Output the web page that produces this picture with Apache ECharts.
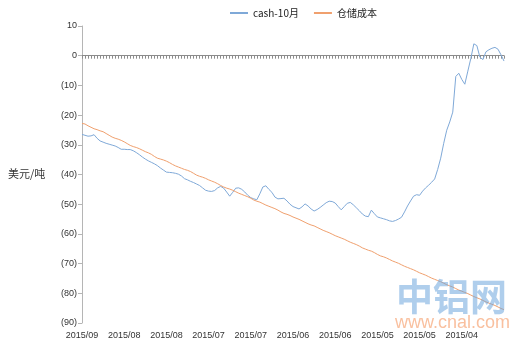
<!DOCTYPE html>
<html><head><meta charset="utf-8">
<script src="https://cdn.jsdelivr.net/npm/echarts@6/dist/echarts.min.js"></script>
<style>html,body{margin:0;padding:0;background:#fff}#c{width:530px;height:356px}</style>
</head><body><div id="c"></div>
<script>
const categories = [
'2015/09/01',
'2015/08/31','2015/08/30','2015/08/29','2015/08/28','2015/08/27','2015/08/26','2015/08/25','2015/08/24','2015/08/23','2015/08/22',
'2015/08/21','2015/08/20','2015/08/19','2015/08/18','2015/08/17','2015/08/16','2015/08/15','2015/08/14','2015/08/13','2015/08/12',
'2015/08/11','2015/08/10','2015/08/09','2015/08/08','2015/08/07','2015/08/06','2015/08/05','2015/08/04','2015/08/03','2015/08/02','2015/08/01',
'2015/07/31','2015/07/30','2015/07/29','2015/07/28','2015/07/27','2015/07/26','2015/07/25','2015/07/24','2015/07/23','2015/07/22',
'2015/07/21','2015/07/20','2015/07/19','2015/07/18','2015/07/17','2015/07/16','2015/07/15','2015/07/14','2015/07/13','2015/07/12',
'2015/07/11','2015/07/10','2015/07/09','2015/07/08','2015/07/07','2015/07/06','2015/07/05','2015/07/04','2015/07/03','2015/07/02','2015/07/01',
'2015/06/30','2015/06/29','2015/06/28','2015/06/27','2015/06/26','2015/06/25','2015/06/24','2015/06/23','2015/06/22','2015/06/21',
'2015/06/20','2015/06/19','2015/06/18','2015/06/17','2015/06/16','2015/06/15','2015/06/14','2015/06/13','2015/06/12','2015/06/11',
'2015/06/10','2015/06/09','2015/06/08','2015/06/07','2015/06/06','2015/06/05','2015/06/04','2015/06/03','2015/06/02','2015/06/01',
'2015/05/31','2015/05/30','2015/05/29','2015/05/28','2015/05/27','2015/05/26','2015/05/25','2015/05/24','2015/05/23','2015/05/22',
'2015/05/21','2015/05/20','2015/05/19','2015/05/18','2015/05/17','2015/05/16','2015/05/15','2015/05/14','2015/05/13','2015/05/12',
'2015/05/11','2015/05/10','2015/05/09','2015/05/08','2015/05/07','2015/05/06','2015/05/05','2015/05/04','2015/05/03','2015/05/02','2015/05/01',
'2015/04/30','2015/04/29','2015/04/28','2015/04/27','2015/04/26','2015/04/25','2015/04/24','2015/04/23','2015/04/22','2015/04/21',
'2015/04/20','2015/04/19','2015/04/18','2015/04/17','2015/04/16','2015/04/15','2015/04/14'
];

const cashOct = [
-26.5,-26.8,-27.1,-27.0,-26.6,-27.8,-28.7,-29.1,-29.5,-29.8,
-30.1,-30.4,-30.9,-31.5,-31.5,-31.6,-31.6,-32.0,-32.6,-33.3,
-34.1,-34.8,-35.4,-35.9,-36.4,-37.0,-37.8,-38.5,-39.2,-39.3,
-39.4,-39.6,-39.9,-40.5,-41.4,-41.8,-42.3,-42.7,-43.2,-43.7,
-44.5,-45.3,-45.6,-45.7,-45.4,-44.5,-44.0,-44.6,-45.9,-47.3,
-46.0,-44.6,-44.5,-45.0,-45.9,-47.0,-47.8,-48.2,-48.5,-46.5,
-44.2,-43.8,-45.0,-46.0,-47.6,-48.2,-48.1,-48.0,-48.9,-50.0,
-50.8,-51.2,-51.6,-50.9,-49.9,-50.6,-51.6,-52.3,-51.8,-51.1,
-50.3,-49.5,-49.0,-49.1,-49.6,-50.8,-51.9,-50.8,-49.7,-49.4,
-50.2,-51.2,-52.2,-53.3,-54.0,-54.2,-52.0,-53.2,-54.3,-54.6,
-54.9,-55.2,-55.6,-55.8,-55.5,-55.0,-54.4,-52.6,-50.6,-48.9,
-47.3,-46.8,-47.0,-45.6,-44.5,-43.6,-42.6,-41.5,-38.3,-34.5,
-29.5,-25.1,-22.3,-19.0,-7.0,-5.9,-8.0,-9.6,-5.2,-0.9,
4.0,3.4,-0.5,-1.3,1.3,2.0,2.5,2.8,2.2,0.3,
-1.8
];

const storageCost = [
-22.8,-23.0,-23.6,-24.1,-24.6,-24.9,-25.3,-25.6,-26.2,-26.8,
-27.4,-27.8,-28.1,-28.5,-29.0,-29.6,-30.2,-30.6,-30.9,-31.3,
-31.8,-32.3,-32.7,-33.2,-33.9,-34.5,-34.8,-35.1,-35.5,-36.0,
-36.6,-37.1,-37.5,-37.9,-38.3,-38.6,-39.0,-39.6,-40.2,-40.6,
-40.9,-41.3,-41.8,-42.2,-42.6,-43.1,-43.7,-44.2,-44.6,-44.9,
-45.3,-45.8,-46.3,-46.7,-47.1,-47.5,-48.0,-48.6,-49.0,-49.3,
-49.8,-50.3,-50.7,-51.1,-51.5,-52.0,-52.6,-53.1,-53.4,-53.8,
-54.3,-54.7,-55.1,-55.6,-56.1,-56.6,-57.0,-57.3,-57.8,-58.3,
-58.8,-59.2,-59.6,-60.1,-60.6,-61.0,-61.4,-61.8,-62.3,-62.8,
-63.2,-63.6,-64.1,-64.7,-65.1,-65.5,-65.8,-66.3,-66.9,-67.4,
-67.7,-68.1,-68.6,-69.1,-69.5,-69.9,-70.4,-70.9,-71.3,-71.7,
-72.1,-72.6,-73.1,-73.5,-73.9,-74.4,-74.9,-75.3,-75.7,-76.1,
-76.6,-77.1,-77.5,-77.9,-78.4,-78.9,-79.3,-79.7,-80.1,-80.6,
-81.1,-81.5,-81.9,-82.4,-82.9,-83.3,-83.7,-84.1,-84.6,-85.1,
-85.5
];

const seriesNames = ['cash-10月', '仓储成本'];
const yTitle = '美元/吨';
const yMin = -90, yMax = 10, yStep = 10;
const labelEvery = 14;
const watermark = ['中铝网', 'www.cnal.com'];

const chart = echarts.init(document.getElementById('c'), null, {renderer: 'canvas'});
chart.setOption({
  animation: false,
  backgroundColor: '#fff',
  textStyle: {fontFamily: 'Liberation Sans'},
  legend: {
    left: 224, top: 3,
    itemWidth: 18, itemHeight: 2, itemGap: 14,
    textStyle: {fontSize: 10, color: '#222', fontFamily: 'Noto Sans CJK SC'},
    data: seriesNames
  },
  grid: {left: 82, right: 26, top: 26, bottom: 33, containLabel: false},
  xAxis: [{
    type: 'category', data: categories, boundaryGap: false, position: 'bottom',
    axisLine: {show: false, onZero: false},
    axisTick: {show: false},
    axisLabel: {
      interval: idx => idx % labelEvery === 0 && idx < categories.length - 1,
      margin: 8, fontSize: 9, color: '#333',
      formatter: v => v.slice(0, 7)}
  }, {
    type: 'category', data: categories, boundaryGap: false, position: 'bottom',
    axisLine: {show: true, onZero: true, lineStyle: {color: '#8c8c8c', width: 1}},
    axisTick: {show: true, interval: 0, length: 3, lineStyle: {color: '#8c8c8c'}},
    axisLabel: {show: false},
    splitLine: {show: false}
  }],
  yAxis: {
    type: 'value', min: yMin, max: yMax, interval: yStep,
    axisLine: {show: true, lineStyle: {color: '#b5b5b5'}},
    axisTick: {show: true, length: 4, lineStyle: {color: '#b5b5b5'}},
    splitLine: {show: false},
    axisLabel: {fontSize: 9, color: '#333', margin: 5,
      formatter: v => v < 0 ? '(' + Math.abs(v) + ')' : String(v)}
  },
  series: [{
    name: seriesNames[0], type: 'line', data: cashOct, xAxisIndex: 0,
    symbol: 'none',
    lineStyle: {color: '#7fa9d8', width: 1}, itemStyle: {color: '#7fa9d8'}
  }, {
    name: seriesNames[1], type: 'line', data: storageCost, xAxisIndex: 0,
    symbol: 'none',
    lineStyle: {color: '#f0a06e', width: 1}, itemStyle: {color: '#f0a06e'}
  }],
  graphic: [{
    type: 'text', left: 8, top: 168, silent: true,
    style: {text: yTitle, font: '11px "Noto Sans CJK SC"', fill: '#333'}
  }, {
    type: 'text', left: 396, top: 278, silent: true, z: 100,
    style: {text: watermark[0], font: 'bold 37px "Noto Sans CJK SC"', fill: 'rgba(110,165,220,0.55)'}
  }, {
    type: 'text', left: 395, top: 314, silent: true, z: 100,
    style: {text: watermark[1], font: '18px "Liberation Sans"', fill: 'rgba(245,150,95,0.6)'}
  }]
});
</script></body></html>
